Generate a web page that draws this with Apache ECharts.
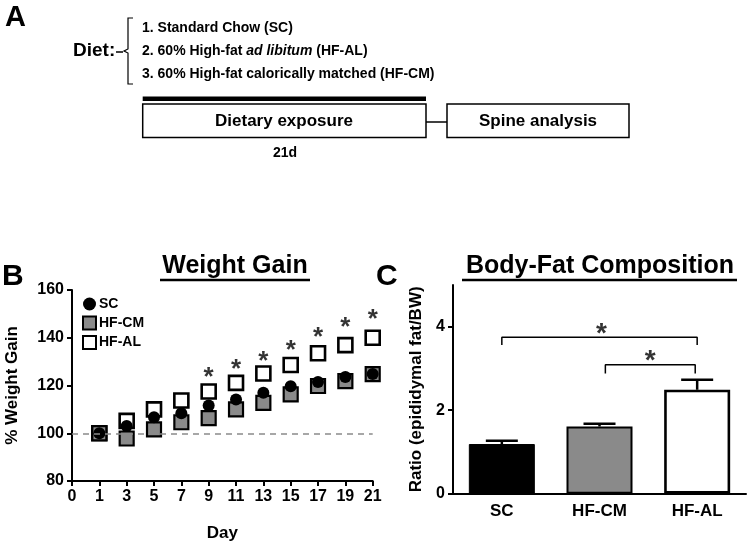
<!DOCTYPE html>
<html>
<head>
<meta charset="utf-8">
<script src="https://cdn.jsdelivr.net/npm/echarts@6/dist/echarts.min.js"></script>
<style>html,body{margin:0;padding:0;background:#fff;}#c{width:750px;height:543px;}</style>
</head>
<body>
<div id="c"></div>
<script>
// ---- Panel B data ----
const dayLabels = ['0','1','3','5','7','9','11','13','15','17','19','21'];
const scGain   = [null, 100, 103.0, 106.7, 108.4, 111.6, 114.1, 117.0, 119.7, 121.5, 123.6, 124.8];
const hfcmGain = [null, 100, 97.8, 101.6, 104.6, 106.3, 110.0, 112.7, 116.3, 119.8, 121.8, 124.8];
const hfalGain = [null, 100, 105.2, 110.0, 113.7, 117.5, 121.1, 125.0, 128.6, 133.5, 136.9, 140.0];
const starDays = ['9','11','13','15','17','19','21'];
const starGain = [125.9, 129.2, 132.6, 137.0, 142.4, 146.5, 150.1];
const gainTicks = [80, 100, 120, 140, 160];

// ---- Panel C data ----
const groups = ['SC', 'HF-CM', 'HF-AL'];
const fatRatio = [1.19, 1.61, 2.49];
const fatErrTop = [1.27, 1.675, 2.73];
const ratioTicks = [0, 2, 4];
const bracket1 = [[0, 3.56], [0, 3.75], [2, 3.75], [2, 3.56]];
const bracket2 = [[1.06, 2.88], [1.06, 3.09], [1.98, 3.09], [1.98, 2.88]];
const starC = [[1.02, 3.97], [1.52, 3.31]];

const FONT = 'Liberation Sans, Arial, sans-serif';
const chart = echarts.init(document.getElementById('c'));

const txt = (x, y, text, size, align, extra) => ({
  type: 'text', silent: true,
  style: Object.assign({ x, y, text, font: 'bold ' + size + 'px ' + FONT, fill: '#000',
    textAlign: align || 'left', textVerticalAlign: 'middle' }, extra || {})
});

const graphic = [
  txt(5, 18, 'A', 29),
  txt(73, 51, 'Diet:', 19),
  { type: 'polyline', silent: true, shape: { points: [[133,18],[128,18],[128,49],[124,51],[128,53],[128,84],[133,84]] },
    style: { stroke: '#000', lineWidth: 1.2, fill: null } },
  { type: 'line', silent: true, shape: { x1: 116, y1: 52, x2: 123, y2: 52 }, style: { stroke: '#000', lineWidth: 1.5 } },
  txt(142, 28, '1. Standard Chow (SC)', 14),
  { type: 'text', silent: true, style: { x: 142, y: 51, text: '2. 60% High-fat {i|ad libitum} (HF-AL)',
      font: 'bold 14px ' + FONT, fill: '#000', textVerticalAlign: 'middle',
      rich: { i: { fontStyle: 'italic', fontWeight: 'bold', fontSize: 14, fontFamily: FONT, fill: '#000' } } } },
  txt(142, 74, '3. 60% High-fat calorically matched (HF-CM)', 14),
  { type: 'rect', silent: true, shape: { x: 142.7, y: 96.5, width: 283.3, height: 4.5 }, style: { fill: '#000' } },
  { type: 'rect', silent: true, shape: { x: 142.7, y: 104, width: 283.3, height: 33.5 }, style: { fill: '#fff', stroke: '#000', lineWidth: 1.5 } },
  txt(284, 121, 'Dietary exposure', 17, 'center'),
  { type: 'line', silent: true, shape: { x1: 426, y1: 122, x2: 447, y2: 122 }, style: { stroke: '#000', lineWidth: 1.5 } },
  { type: 'rect', silent: true, shape: { x: 447, y: 104, width: 182, height: 33.5 }, style: { fill: '#fff', stroke: '#000', lineWidth: 1.5 } },
  txt(538, 121, 'Spine analysis', 17, 'center'),
  txt(285, 153, '21d', 14, 'center'),
  txt(2, 277, 'B', 30),
  txt(376, 277, 'C', 30),
  txt(235, 266, 'Weight Gain', 25, 'center'),
  { type: 'line', silent: true, shape: { x1: 160, y1: 280, x2: 310, y2: 280 }, style: { stroke: '#000', lineWidth: 2.5 } },
  txt(600, 266, 'Body-Fat Composition', 25, 'center'),
  { type: 'line', silent: true, shape: { x1: 462, y1: 280, x2: 737, y2: 280 }, style: { stroke: '#000', lineWidth: 2.5 } }
];

const axisLine = { show: true, onZero: false, lineStyle: { color: '#000', width: 2 } };
const axisTick = { show: true, length: 5, lineStyle: { color: '#000', width: 2 } };
const lbl = (size, margin) => ({ color: '#000', fontFamily: FONT, fontWeight: 'bold', fontSize: size, margin });

const option = {
  animation: false,
  backgroundColor: '#fff',
  graphic,
  legend: {
    orient: 'vertical', left: 77, top: 292, itemWidth: 13, itemHeight: 13, itemGap: 4.5,
    data: [{ name: 'SC', icon: 'circle' }, { name: 'HF-CM', icon: 'rect' }, { name: 'HF-AL', icon: 'rect' }],
    textStyle: { color: '#000', fontFamily: FONT, fontWeight: 'bold', fontSize: 14, padding: [0, 0, 0, -2] },
    selectedMode: false
  },
  grid: [
    { left: 72, top: 290, width: 300.7, height: 198 },
    { left: 453, top: 285, width: 293, height: 208.7 }
  ],
  xAxis: [
    { type: 'category', gridIndex: 0, data: dayLabels, boundaryGap: false,
      axisLine, axisTick: Object.assign({}, axisTick, { alignWithLabel: true }),
      axisLabel: lbl(16, 8), splitLine: { show: false },
      name: 'Day', nameLocation: 'middle', nameGap: 44,
      nameTextStyle: { color: '#000', fontFamily: FONT, fontWeight: 'bold', fontSize: 17 } },
    { type: 'category', gridIndex: 1, data: groups, axisLine, axisTick: { show: false },
      axisLabel: lbl(17, 9), splitLine: { show: false } },
    { type: 'value', gridIndex: 1, min: -0.5, max: 2.5, show: false }
  ],
  yAxis: [
    { type: 'value', gridIndex: 0, min: 80, max: 160, interval: 20,
      axisLine, axisTick, axisLabel: lbl(16, 8), splitLine: { show: false },
      name: '% Weight Gain', nameLocation: 'middle', nameGap: 51, nameRotate: 90,
      nameTextStyle: { color: '#000', fontFamily: FONT, fontWeight: 'bold', fontSize: 17 } },
    { type: 'value', gridIndex: 1, min: 0, max: 5,
      axisLine,
      axisTick: Object.assign({}, axisTick, { customValues: ratioTicks }),
      axisLabel: Object.assign(lbl(16, 8), { customValues: ratioTicks }),
      splitLine: { show: false },
      name: 'Ratio (epididymal fat/BW)', nameLocation: 'middle', nameGap: 28, nameRotate: 90,
      nameTextStyle: { color: '#000', fontFamily: FONT, fontWeight: 'bold', fontSize: 17 } }
  ],
  series: [
    { name: 'HF-AL', type: 'scatter', xAxisIndex: 0, yAxisIndex: 0, symbol: 'rect', symbolSize: 14,
      data: hfalGain, itemStyle: { color: '#fff', borderColor: '#000', borderWidth: 2.6, opacity: 1 },
      markLine: { silent: true, symbol: 'none', label: { show: false },
        lineStyle: { color: '#8a8a8a', type: [6, 5], width: 1.5 }, data: [{ yAxis: 100 }] } },
    { name: 'HF-CM', type: 'scatter', xAxisIndex: 0, yAxisIndex: 0, symbol: 'rect', symbolSize: 14,
      data: hfcmGain, itemStyle: { color: '#8a8a8a', borderColor: '#000', borderWidth: 2.2, opacity: 1 } },
    { name: 'SC', type: 'scatter', xAxisIndex: 0, yAxisIndex: 0, symbol: 'circle', symbolSize: 12,
      data: scGain, itemStyle: { color: '#000', opacity: 1 } },
    { name: 'sigB', type: 'scatter', xAxisIndex: 0, yAxisIndex: 0, symbolSize: 0, silent: true,
      data: starDays.map((d, i) => [d, starGain[i]]),
      label: { show: true, position: 'inside', formatter: '*', offset: [0, 6],
        color: '#000', fontFamily: FONT, fontWeight: 'bold', fontSize: 26 } },
    { name: 'fat', type: 'bar', xAxisIndex: 1, yAxisIndex: 1, barWidth: 66,
      data: fatRatio.map((v, i) => ({ value: v, itemStyle: [
        { color: '#000', borderColor: '#000', borderWidth: 1 },
        { color: '#8a8a8a', borderColor: '#000', borderWidth: 2 },
        { color: '#fff', borderColor: '#000', borderWidth: 2.6 }][i] })) },
    { name: 'err', type: 'custom', xAxisIndex: 1, yAxisIndex: 1, silent: true, z: 5,
      data: groups.map((g, i) => [i, fatRatio[i], fatErrTop[i]]),
      renderItem: (params, api) => {
        const b = api.coord([api.value(0), api.value(1)]);
        const t = api.coord([api.value(0), api.value(2)]);
        const st = { stroke: '#000', lineWidth: 2.5 };
        return { type: 'group', children: [
          { type: 'line', shape: { x1: b[0], y1: b[1], x2: t[0], y2: t[1] }, style: st },
          { type: 'line', shape: { x1: t[0] - 16, y1: t[1], x2: t[0] + 16, y2: t[1] }, style: st }
        ] };
      } },
    { name: 'br1', type: 'line', xAxisIndex: 2, yAxisIndex: 1, data: bracket1, symbol: 'none', silent: true,
      lineStyle: { color: '#000', width: 1.5 } },
    { name: 'br2', type: 'line', xAxisIndex: 2, yAxisIndex: 1, data: bracket2, symbol: 'none', silent: true,
      lineStyle: { color: '#000', width: 1.5 } },
    { name: 'sigC', type: 'scatter', xAxisIndex: 2, yAxisIndex: 1, symbolSize: 0, silent: true, data: starC,
      label: { show: true, position: 'inside', formatter: '*', offset: [0, 6],
        color: '#000', fontFamily: FONT, fontWeight: 'bold', fontSize: 28 } }
  ]
};
chart.setOption(option);
</script>
</body>
</html>
